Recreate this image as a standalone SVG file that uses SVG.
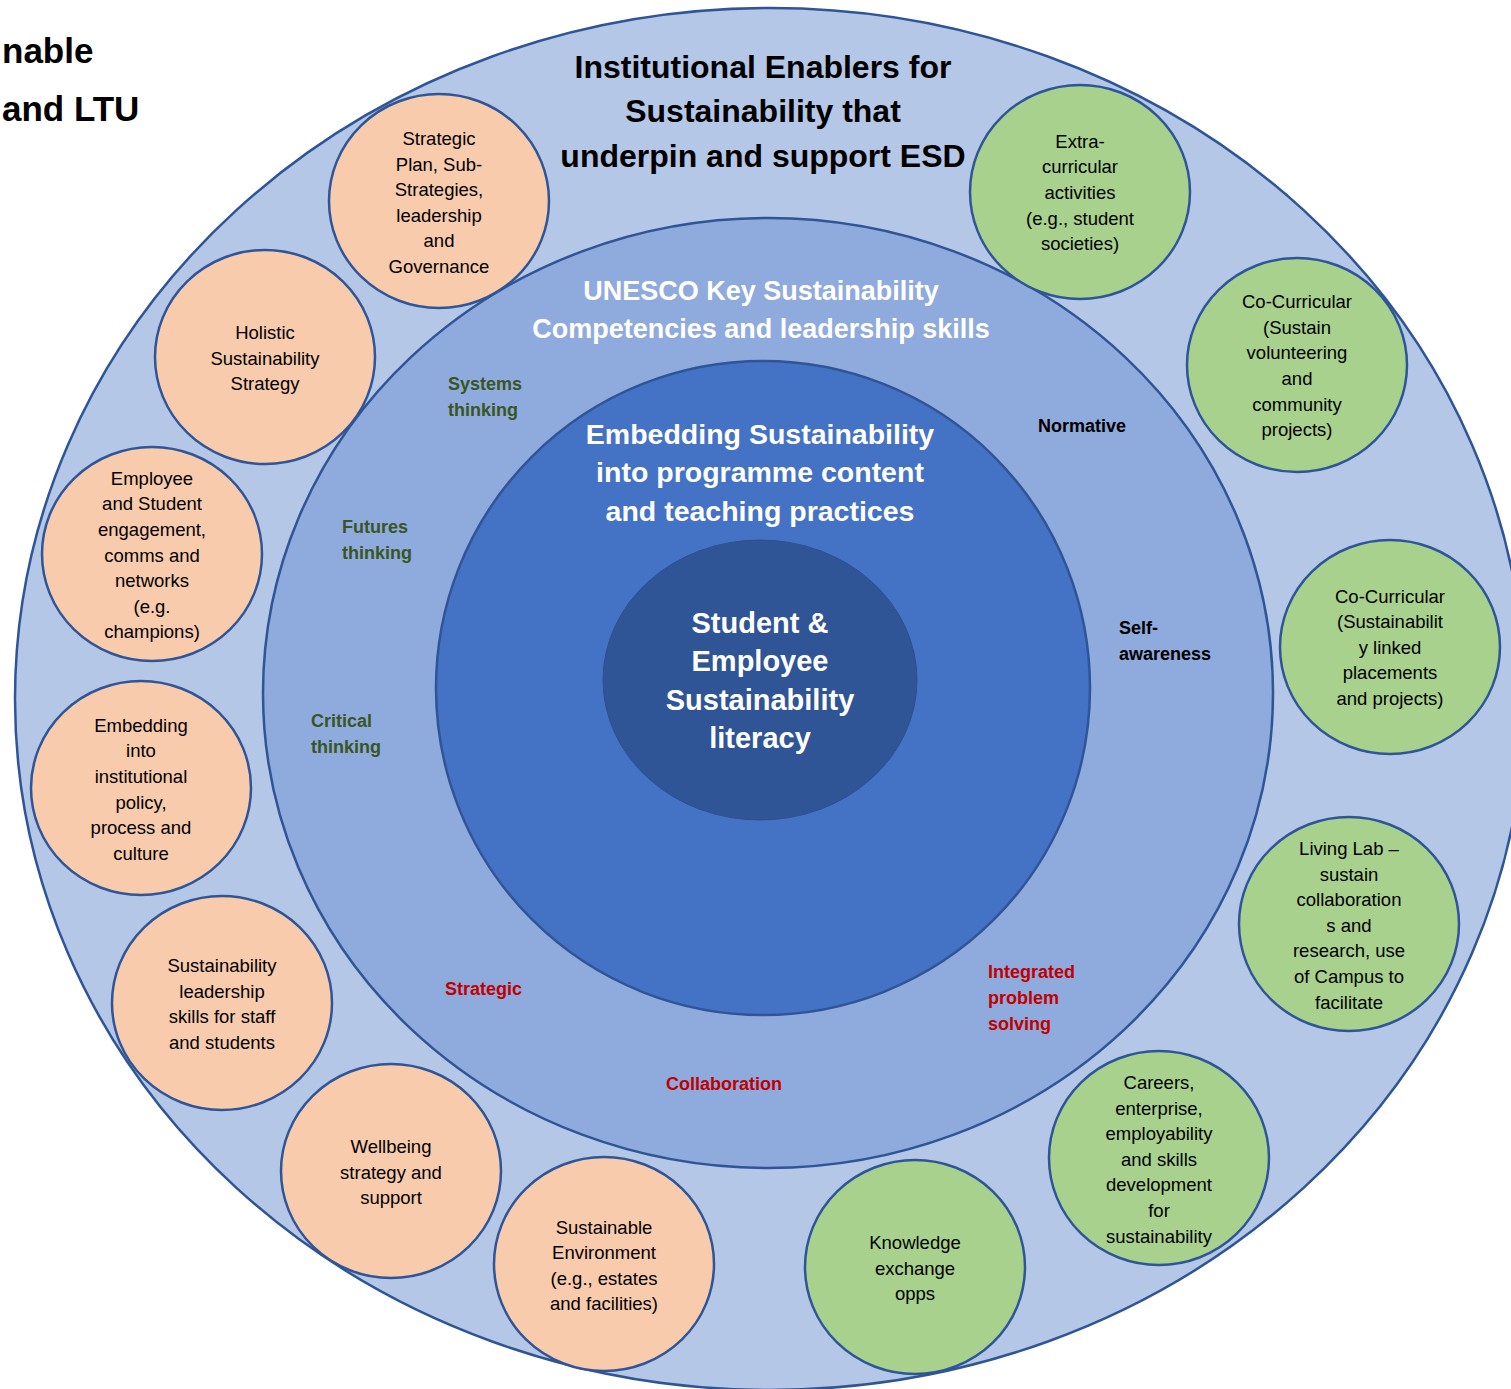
<svg xmlns="http://www.w3.org/2000/svg" width="1511" height="1389" viewBox="0 0 1511 1389">
<style>
.ln{stroke:#2f5597;stroke-width:2.5}
.pe{fill:#f8cbad;stroke:#2f5597;stroke-width:2.5}
.gr{fill:#a9d18e;stroke:#2f5597;stroke-width:2.5}
.t{font-family:"Liberation Sans",Arial,sans-serif;font-size:18.5px;fill:#000;text-anchor:middle}
.h{font-family:"Liberation Sans",Arial,sans-serif;font-weight:bold;text-anchor:middle}
.c{font-family:"Liberation Sans",Arial,sans-serif;font-weight:bold;font-size:18px}
.g{fill:#375623}.r{fill:#c00000}.k{fill:#000}
</style>
<rect width="1511" height="1389" fill="#fff"/>
<g id="page-title">
<text class="h" style="font-size:35px;text-anchor:start" x="2" y="63">nable</text>
<text class="h" style="font-size:35px;text-anchor:start" x="2" y="121">and LTU</text>
</g>
<g id="outer-ring">
<ellipse cx="770" cy="699" rx="755" ry="691" fill="#b4c7e7" class="ln"/>
<text class="h" style="font-size:32px" x="763"><tspan x="763" y="78">Institutional Enablers for</tspan><tspan x="763" y="122">Sustainability that</tspan><tspan x="763" y="167">underpin and support ESD</tspan></text>
</g>
<g id="unesco-ring">
<ellipse cx="768" cy="693" rx="505" ry="475" fill="#8faadc" class="ln"/>
<text class="h" style="font-size:27px;fill:#fff" x="761"><tspan x="761" y="300">UNESCO Key Sustainability</tspan><tspan x="761" y="338">Competencies and leadership skills</tspan></text>
</g>
<g id="competencies">
<text class="c g" x="448"><tspan x="448" y="390">Systems</tspan><tspan x="448" y="416">thinking</tspan></text>
<text class="c g" x="342"><tspan x="342" y="533">Futures</tspan><tspan x="342" y="559">thinking</tspan></text>
<text class="c g" x="311"><tspan x="311" y="727">Critical</tspan><tspan x="311" y="753">thinking</tspan></text>
<text class="c k" x="1038" y="432">Normative</text>
<text class="c k" x="1119"><tspan x="1119" y="634">Self-</tspan><tspan x="1119" y="660">awareness</tspan></text>
<text class="c r" x="445" y="995">Strategic</text>
<text class="c r" x="666" y="1090">Collaboration</text>
<text class="c r" x="988"><tspan x="988" y="978">Integrated</tspan><tspan x="988" y="1004">problem</tspan><tspan x="988" y="1030">solving</tspan></text>
</g>
<g id="embedding-ring">
<ellipse cx="763" cy="688" rx="327" ry="327" fill="#4472c4" class="ln"/>
<text class="h" style="font-size:28.5px;fill:#fff" x="760"><tspan x="760" y="444">Embedding Sustainability</tspan><tspan x="760" y="482">into programme content</tspan><tspan x="760" y="521">and teaching practices</tspan></text>
</g>
<g id="core">
<ellipse cx="760" cy="680" rx="157" ry="140" fill="#2f5597" stroke="#2c5192" stroke-width="1"/>
<text class="h" style="font-size:29px;fill:#fff" x="760"><tspan x="760" y="633">Student &amp;</tspan><tspan x="760" y="671">Employee</tspan><tspan x="760" y="710">Sustainability</tspan><tspan x="760" y="748">literacy</tspan></text>
</g>
<g id="n-strategic-plan">
<ellipse class="pe" cx="439" cy="201" rx="110" ry="107"/>
<text class="t" x="439"><tspan x="439" y="145">Strategic</tspan><tspan x="439" y="171">Plan, Sub-</tspan><tspan x="439" y="196">Strategies,</tspan><tspan x="439" y="222">leadership</tspan><tspan x="439" y="247">and</tspan><tspan x="439" y="273">Governance</tspan></text>
</g>
<g id="n-holistic">
<ellipse class="pe" cx="265" cy="357" rx="110" ry="107"/>
<text class="t" x="265"><tspan x="265" y="339">Holistic</tspan><tspan x="265" y="365">Sustainability</tspan><tspan x="265" y="390">Strategy</tspan></text>
</g>
<g id="n-engagement">
<ellipse class="pe" cx="152" cy="554" rx="110" ry="107"/>
<text class="t" x="152"><tspan x="152" y="485">Employee</tspan><tspan x="152" y="510">and Student</tspan><tspan x="152" y="536">engagement,</tspan><tspan x="152" y="562">comms and</tspan><tspan x="152" y="587">networks</tspan><tspan x="152" y="613">(e.g.</tspan><tspan x="152" y="638">champions)</tspan></text>
</g>
<g id="n-policy">
<ellipse class="pe" cx="141" cy="788" rx="110" ry="107"/>
<text class="t" x="141"><tspan x="141" y="732">Embedding</tspan><tspan x="141" y="757">into</tspan><tspan x="141" y="783">institutional</tspan><tspan x="141" y="809">policy,</tspan><tspan x="141" y="834">process and</tspan><tspan x="141" y="860">culture</tspan></text>
</g>
<g id="n-leadership">
<ellipse class="pe" cx="222" cy="1003" rx="110" ry="107"/>
<text class="t" x="222"><tspan x="222" y="972">Sustainability</tspan><tspan x="222" y="998">leadership</tspan><tspan x="222" y="1023">skills for staff</tspan><tspan x="222" y="1049">and students</tspan></text>
</g>
<g id="n-wellbeing">
<ellipse class="pe" cx="391" cy="1171" rx="110" ry="107"/>
<text class="t" x="391"><tspan x="391" y="1153">Wellbeing</tspan><tspan x="391" y="1179">strategy and</tspan><tspan x="391" y="1204">support</tspan></text>
</g>
<g id="n-environment">
<ellipse class="pe" cx="604" cy="1264" rx="110" ry="107"/>
<text class="t" x="604"><tspan x="604" y="1234">Sustainable</tspan><tspan x="604" y="1259">Environment</tspan><tspan x="604" y="1285">(e.g., estates</tspan><tspan x="604" y="1310">and facilities)</tspan></text>
</g>
<g id="n-knowledge">
<ellipse class="gr" cx="915" cy="1267" rx="110" ry="107"/>
<text class="t" x="915"><tspan x="915" y="1249">Knowledge</tspan><tspan x="915" y="1275">exchange</tspan><tspan x="915" y="1300">opps</tspan></text>
</g>
<g id="n-careers">
<ellipse class="gr" cx="1159" cy="1158" rx="110" ry="107"/>
<text class="t" x="1159"><tspan x="1159" y="1089">Careers,</tspan><tspan x="1159" y="1115">enterprise,</tspan><tspan x="1159" y="1140">employability</tspan><tspan x="1159" y="1166">and skills</tspan><tspan x="1159" y="1191">development</tspan><tspan x="1159" y="1217">for</tspan><tspan x="1159" y="1243">sustainability</tspan></text>
</g>
<g id="n-living-lab">
<ellipse class="gr" cx="1349" cy="924" rx="110" ry="107"/>
<text class="t" x="1349"><tspan x="1349" y="855">Living Lab –</tspan><tspan x="1349" y="881">sustain</tspan><tspan x="1349" y="906">collaboration</tspan><tspan x="1349" y="932">s and</tspan><tspan x="1349" y="957">research, use</tspan><tspan x="1349" y="983">of Campus to</tspan><tspan x="1349" y="1009">facilitate</tspan></text>
</g>
<g id="n-placements">
<ellipse class="gr" cx="1390" cy="647" rx="110" ry="107"/>
<text class="t" x="1390"><tspan x="1390" y="603">Co-Curricular</tspan><tspan x="1390" y="628">(Sustainabilit</tspan><tspan x="1390" y="654">y linked</tspan><tspan x="1390" y="679">placements</tspan><tspan x="1390" y="705">and projects)</tspan></text>
</g>
<g id="n-volunteering">
<ellipse class="gr" cx="1297" cy="365" rx="110" ry="107"/>
<text class="t" x="1297"><tspan x="1297" y="308">Co-Curricular</tspan><tspan x="1297" y="334">(Sustain</tspan><tspan x="1297" y="359">volunteering</tspan><tspan x="1297" y="385">and</tspan><tspan x="1297" y="411">community</tspan><tspan x="1297" y="436">projects)</tspan></text>
</g>
<g id="n-extra">
<ellipse class="gr" cx="1080" cy="192" rx="110" ry="107"/>
<text class="t" x="1080"><tspan x="1080" y="148">Extra-</tspan><tspan x="1080" y="173">curricular</tspan><tspan x="1080" y="199">activities</tspan><tspan x="1080" y="225">(e.g., student</tspan><tspan x="1080" y="250">societies)</tspan></text>
</g>
<g id="connectors"></g>
</svg>
